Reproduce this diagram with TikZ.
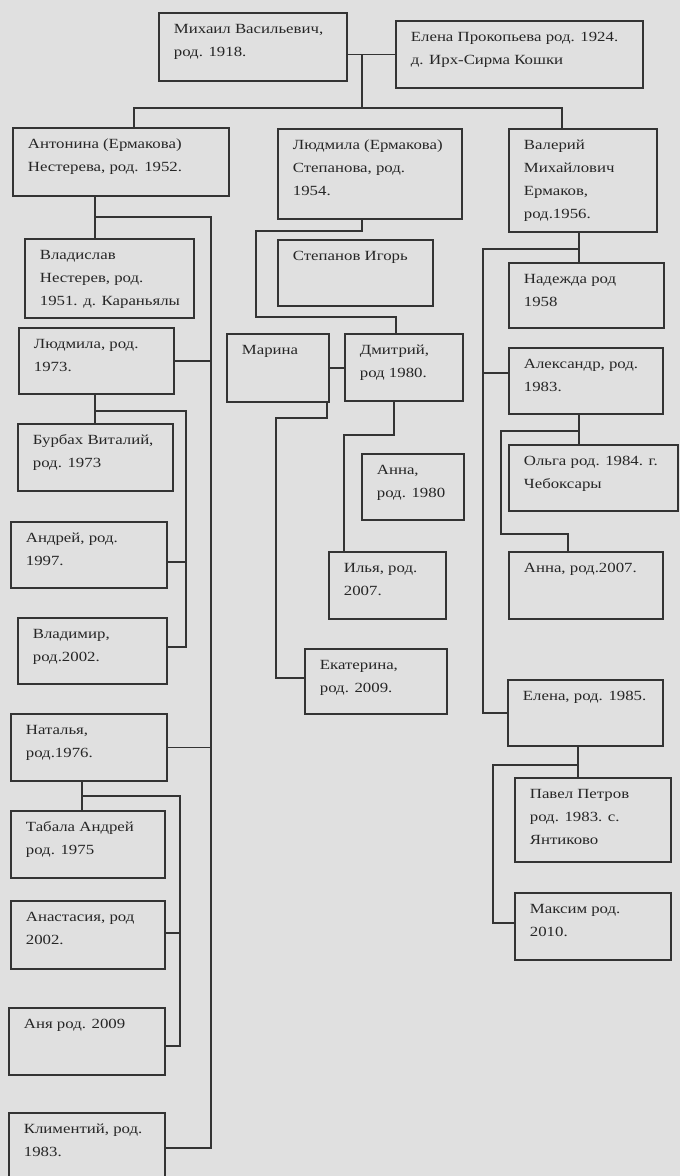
\documentclass[tikz,border=0pt]{standalone}
\usepackage{fontspec}
\setmainfont{Liberation Serif}[FakeStretch=1.2]
\definecolor{paper}{RGB}{224,224,224}
\definecolor{ink}{RGB}{52,52,52}
\definecolor{txt}{RGB}{38,38,38}
\tikzset{
  fambox/.style={draw=ink, line width=1.8pt, inner sep=0pt, anchor=north west,
    text=txt, font=\fontsize{14}{23}\selectfont},
  link/.style={draw=ink, line width=1.3pt}
}
\newcommand\pb[6]{\node[fambox] (#1) at (#2,#3)
  {\parbox[c][#5pt][t]{#4pt}{\vspace*{4.5pt}\hspace*{15pt}\begin{tabular}[t]{@{}l@{}}#6\end{tabular}}};}
\begin{document}
\begin{tikzpicture}[x=1pt,y=-1pt]
\fill[paper] (0,0) rectangle (680,1176);
\useasboundingbox (0,0) rectangle (680,1176);
% boxes: name, x, y, width, height, text
\pb{mih}{158}{12}{188}{68}{Михаил Васильевич,\\род. 1918.}
\pb{ele}{395}{20}{247}{67}{Елена Прокопьева род. 1924.\\д. Ирх-Сирма Кошки}
\pb{ant}{12}{127}{216}{68}{Антонина (Ермакова)\\Нестерева, род. 1952.}
\pb{lud}{277}{128}{184}{90}{Людмила (Ермакова)\\Степанова, род.\\1954.}
\pb{val}{508}{128}{148}{103}{Валерий\\Михайлович\\Ермаков,\\род.1956.}
\pb{vla}{24}{238}{169}{79}{Владислав\\Нестерев, род.\\1951. д. Караньялы}
\pb{ste}{277}{239}{155}{66}{Степанов Игорь}
\pb{lu2}{18}{327}{155}{66}{Людмила, род.\\1973.}
\pb{mar}{226}{333}{102}{68}{Марина}
\pb{dmi}{344}{333}{118}{67}{Дмитрий,\\род 1980.}
\pb{nad}{508}{262}{155}{65}{Надежда род\\1958}
\pb{ale}{508}{347}{154}{66}{Александр, род.\\1983.}
\pb{bur}{17}{423}{155}{67}{Бурбах Виталий,\\род. 1973}
\pb{an1}{361}{453}{102}{66}{Анна,\\род. 1980}
\pb{olg}{508}{444}{169}{66}{Ольга род. 1984. г.\\Чебоксары}
\pb{and}{10}{521}{156}{66}{Андрей, род.\\1997.}
\pb{ily}{328}{551}{117}{67}{Илья, род.\\2007.}
\pb{an2}{508}{551}{154}{67}{Анна, род.2007.}
\pb{vld}{17}{617}{149}{66}{Владимир,\\род.2002.}
\pb{eka}{304}{648}{142}{65}{Екатерина,\\род. 2009.}
\pb{el2}{507}{679}{155}{66}{Елена, род. 1985.}
\pb{nat}{10}{713}{156}{67}{Наталья,\\род.1976.}
\pb{pav}{514}{777}{156}{84}{Павел Петров\\род. 1983. с.\\Янтиково}
\pb{tab}{10}{810}{154}{67}{Табала Андрей\\род. 1975}
\pb{max}{514}{892}{156}{67}{Максим род.\\2010.}
\pb{ana}{10}{900}{154}{68}{Анастасия, род\\2002.}
\pb{anj}{8}{1007}{156}{67}{Аня род. 2009}
\pb{kli}{8}{1112}{156}{70}{Климентий, род.\\1983.}
% trunk
\coordinate (c1) at (362,108);
\coordinate (c2) at (134,108);
\coordinate (c3) at (562,108);
\draw[link] (mih.east |- ele.west) -- (ele.west);
\draw[link] (c1 |- ele.west) -- (c1);
\draw[link] (c2 |- ant.north) -- (c2) -- (c3) -- (c3 |- val.north);
% Antonina
\coordinate (a1) at (95,217);
\coordinate (a2) at (211,217);
\coordinate (a3) at (211,1148);
\draw[link] (a1 |- ant.south) -- (a1 |- vla.north);
\draw[link] (a1) -- (a2) -- (a3) -- (a3 -| kli.east);
\draw[link] (lu2.east) -- (lu2.east -| a2);
\draw[link] (nat.east) -- (nat.east -| a2);
% Ludmila 1973
\coordinate (b1) at (95,411);
\coordinate (b2) at (186,411);
\coordinate (b3) at (186,647);
\coordinate (b4) at (186,562);
\draw[link] (b1 |- lu2.south) -- (b1 |- bur.north);
\draw[link] (b1) -- (b2) -- (b3) -- (b3 -| vld.east);
\draw[link] (b4) -- (b4 -| and.east);
% Natalya
\coordinate (n1) at (82,796);
\coordinate (n2) at (180,796);
\coordinate (n3) at (180,1046);
\coordinate (n4) at (180,933);
\draw[link] (n1 |- nat.south) -- (n1 |- tab.north);
\draw[link] (n1) -- (n2) -- (n3) -- (n3 -| anj.east);
\draw[link] (n4) -- (n4 -| ana.east);
% Ludmila (Ermakova)
\coordinate (l1) at (362,231);
\coordinate (l2) at (256,231);
\coordinate (l3) at (256,317);
\coordinate (l4) at (396,317);
\draw[link] (l1 |- lud.south) -- (l1) -- (l2) -- (l3) -- (l4) -- (l4 |- dmi.north);
% Marina - Dmitry
\draw[link] (mar.east) -- (mar.east -| dmi.west);
\coordinate (m1) at (327,418);
\coordinate (m2) at (276,418);
\coordinate (m3) at (276,678);
\draw[link] (m1 |- mar.south) -- (m1) -- (m2) -- (m3) -- (m3 -| eka.west);
\coordinate (d1) at (394,435);
\coordinate (d2) at (344,435);
\draw[link] (d1 |- dmi.south) -- (d1) -- (d2) -- (d2 |- ily.north);
% Valery
\coordinate (v1) at (579,249);
\coordinate (v2) at (483,249);
\coordinate (v3) at (483,713);
\coordinate (v4) at (483,373);
\draw[link] (v1 |- val.south) -- (v1 |- nad.north);
\draw[link] (v1) -- (v2) -- (v3) -- (v3 -| el2.west);
\draw[link] (v4) -- (v4 -| ale.west);
% Alexander
\coordinate (x1) at (579,431);
\coordinate (x2) at (501,431);
\coordinate (x3) at (501,534);
\coordinate (x4) at (568,534);
\draw[link] (x1 |- ale.south) -- (x1 |- olg.north);
\draw[link] (x1) -- (x2) -- (x3) -- (x4) -- (x4 |- an2.north);
% Elena 1985
\coordinate (e1) at (578,765);
\coordinate (e2) at (493,765);
\coordinate (e3) at (493,923);
\draw[link] (e1 |- el2.south) -- (e1 |- pav.north);
\draw[link] (e1) -- (e2) -- (e3) -- (e3 -| max.west);
\end{tikzpicture}
\end{document}
